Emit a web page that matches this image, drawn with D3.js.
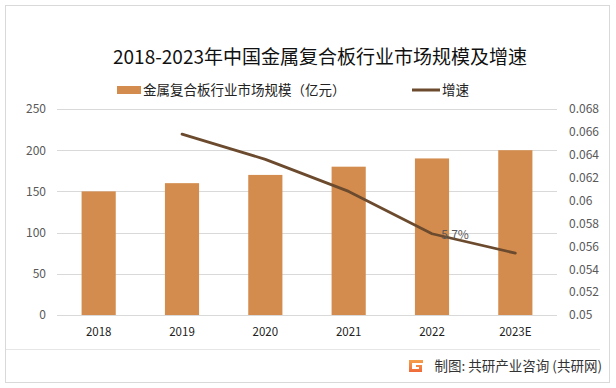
<!DOCTYPE html>
<html>
<head>
<meta charset="utf-8">
<script src="https://cdn.jsdelivr.net/npm/d3@7"></script>
<style>
  body { margin: 0; background: #fff; }
  text { font-family: "Noto Sans CJK SC", "Noto Sans", sans-serif; }
</style>
</head>
<body>
<div id="chart"></div>
<script>
var years = ["2018", "2019", "2020", "2021", "2022", "2023E"];
var marketSize = [150, 160, 170, 180, 190, 200];
var growthYears = ["2019", "2020", "2021", "2022", "2023E"];
var growth = [0.0658, 0.0636, 0.0608, 0.0571, 0.0554];
var leftTicks = [0, 50, 100, 150, 200, 250];
var rightTicks = [0.05, 0.052, 0.054, 0.056, 0.058, 0.06, 0.062, 0.064, 0.066, 0.068];

var width = 616, height = 388;
var barColor = "#d48c4e";
var lineColor = "#6b4a2e";
var gridColor = "#d9d9d9";

var svg = d3.select("#chart").append("svg")
  .attr("width", width)
  .attr("height", height);

/* frame */
svg.append("rect")
  .attr("x", 5.5).attr("y", 5.5)
  .attr("width", 604).attr("height", 377)
  .attr("fill", "#fff")
  .attr("stroke", gridColor);

/* Scale */
var x = d3.scaleBand()
  .domain(years)
  .range([57, 557])
  .paddingInner(0.59)
  .paddingOuter(0.295);

var yLeft = d3.scaleLinear().domain([0, 250]).range([315, 109]);
var yRight = d3.scaleLinear().domain([0.05, 0.068]).range([315, 109]);

/* grid */
svg.append("g")
  .selectAll("line")
  .data(leftTicks)
  .enter()
  .append("line")
  .attr("x1", 57).attr("x2", 557)
  .attr("y1", d => Math.round(yLeft(d)) + 0.5)
  .attr("y2", d => Math.round(yLeft(d)) + 0.5)
  .attr("stroke", gridColor);

/* Axes */
var leftAxis = svg.append("g")
  .attr("transform", "translate(57,0)")
  .call(d3.axisLeft(yLeft).tickValues(leftTicks).tickSize(0).tickPadding(11));

var rightAxis = svg.append("g")
  .attr("transform", "translate(557,0)")
  .call(d3.axisRight(yRight).tickValues(rightTicks).tickSize(0).tickPadding(12)
    .tickFormat(d => String(+d.toFixed(3))));

var bottomAxis = svg.append("g")
  .attr("transform", "translate(0,315)")
  .call(d3.axisBottom(x).tickSize(0).tickPadding(13));

[leftAxis, rightAxis, bottomAxis].forEach(function(a) {
  a.select(".domain").remove();
  a.selectAll("text").attr("font-size", 12).attr("fill", "#595959");
});
bottomAxis.selectAll("text").attr("fill", "#222").attr("font-size", 11.5);

/* bars */
svg.append("g")
  .selectAll("rect")
  .data(years)
  .enter()
  .append("rect")
  .attr("x", d => x(d))
  .attr("width", x.bandwidth())
  .attr("y", (d, i) => yLeft(marketSize[i]))
  .attr("height", (d, i) => yLeft(0) - yLeft(marketSize[i]))
  .attr("fill", barColor);

/* growth line */
var line = d3.line()
  .x((d, i) => x(growthYears[i]) + x.bandwidth() / 2)
  .y(d => yRight(d));

svg.append("path")
  .datum(growth)
  .attr("d", line)
  .attr("fill", "none")
  .attr("stroke", lineColor)
  .attr("stroke-width", 2.75)
  .attr("stroke-linejoin", "round")
  .attr("stroke-linecap", "round");

/* the one data label on 2022 */
var li = growthYears.indexOf("2022");
svg.append("text")
  .attr("x", x("2022") + x.bandwidth() / 2 + 23)
  .attr("y", yRight(growth[li]) + 5)
  .attr("text-anchor", "middle")
  .attr("font-size", 12)
  .attr("fill", "#595959")
  .text(d3.format(".1%")(growth[li]));

/* title */
svg.append("text")
  .attr("x", 320).attr("y", 64)
  .attr("text-anchor", "middle")
  .attr("font-size", 19)
  .attr("fill", "#111")
  .text("2018-2023年中国金属复合板行业市场规模及增速");

/* legend */
var legend = svg.append("g");
legend.append("rect")
  .attr("x", 117).attr("y", 86)
  .attr("width", 24).attr("height", 8)
  .attr("fill", barColor);
legend.append("text")
  .attr("x", 143).attr("y", 95)
  .attr("font-size", 13.5).attr("fill", "#222")
  .text("金属复合板行业市场规模（亿元）");
legend.append("line")
  .attr("x1", 412).attr("x2", 440)
  .attr("y1", 90).attr("y2", 90)
  .attr("stroke", lineColor).attr("stroke-width", 3);
legend.append("text")
  .attr("x", 442).attr("y", 95)
  .attr("font-size", 13.5).attr("fill", "#222")
  .text("增速");

/* footer */
svg.append("line")
  .attr("x1", 6).attr("x2", 600)
  .attr("y1", 349.5).attr("y2", 349.5)
  .attr("stroke", "#e6e6e6");

var grad = svg.append("defs").append("linearGradient")
  .attr("id", "logoGrad").attr("x1", 0).attr("y1", 0).attr("x2", 0).attr("y2", 1);
grad.append("stop").attr("offset", "0%").attr("stop-color", "#f5a04a");
grad.append("stop").attr("offset", "100%").attr("stop-color", "#f06a3a");

svg.append("path")
  .attr("d", "M409,360 h14 v3 h-11 v6 h7 v-2 h-3 v-2 h6 v7 h-13 z")
  .attr("fill", "url(#logoGrad)");

svg.append("text")
  .attr("x", 602).attr("y", 371)
  .attr("text-anchor", "end")
  .attr("font-size", 13.5)
  .attr("fill", "#333")
  .text("制图: 共研产业咨询 (共研网)");
</script>
</body>
</html>
